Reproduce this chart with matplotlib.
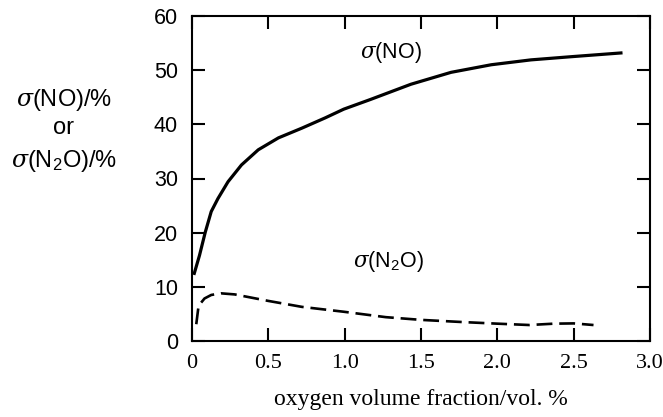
import matplotlib
matplotlib.use("Agg")
import matplotlib.pyplot as plt

# Data
no_x = [0.012, 0.049, 0.087, 0.126, 0.17, 0.236, 0.324, 0.434, 0.566, 0.72, 0.873, 0.994,
        1.17, 1.434, 1.697, 1.96, 2.22, 2.49, 2.82]
no_y = [12.2, 15.8, 20.1, 23.9, 26.3, 29.4, 32.5, 35.3, 37.5, 39.3, 41.2, 42.8,
        44.6, 47.4, 49.6, 51.0, 51.9, 52.5, 53.2]

n2o_x = [0.028, 0.043, 0.082, 0.126, 0.19, 0.28, 0.50, 0.72, 0.994, 1.27, 1.50, 1.77,
         2.0, 2.21, 2.37, 2.50, 2.63]
n2o_y = [3.1, 6.5, 7.85, 8.5, 8.8, 8.6, 7.4, 6.3, 5.4, 4.4, 3.9, 3.5,
         3.2, 2.95, 3.2, 3.25, 2.95]

x_ticks = [0, 0.5, 1.0, 1.5, 2.0, 2.5, 3.0]
x_ticklabels = ["0", "0.5", "1.0", "1.5", "2.0", "2.5", "3.0"]
y_ticks = [0, 10, 20, 30, 40, 50, 60]

plt.rcParams["mathtext.fontset"] = "custom"
plt.rcParams["mathtext.rm"] = "Liberation Sans"
plt.rcParams["mathtext.it"] = "DejaVu Serif:italic"

fig = plt.figure(figsize=(6.63, 4.17), dpi=100)
ax = fig.add_axes([192/663, 1 - 341/417, (650-192)/663, (341-16)/417])

ax.plot(no_x, no_y, color="black", lw=2.3, solid_capstyle="butt", solid_joinstyle="round")
ax.plot(n2o_x, n2o_y, color="black", lw=1.9, dashes=(6, 2.6))

ax.set_xlim(0, 3.0)
ax.set_ylim(0, 60)
ax.set_xticks(x_ticks)
ax.set_xticklabels(x_ticklabels, family="Liberation Serif", fontsize=16)
ax.set_yticks(y_ticks)
ax.set_yticklabels([str(v) for v in y_ticks], family="Liberation Sans", fontsize=15.5)
ax.tick_params(direction="in", length=9.5, width=1.5, top=True, right=True)
ax.tick_params(axis="x", pad=9)
ax.tick_params(axis="y", pad=10)
for s in ax.spines.values():
    s.set_linewidth(1.5)

ax.text(1.30, 53.3, r"$\sigma$(NO)", ha="center", va="center", fontsize=15.5, family="Liberation Sans")
ax.text(1.29, 14.6, r"$\sigma$(N$_2$O)", ha="center", va="center", fontsize=15.5, family="Liberation Sans")

ax.set_xlabel("oxygen volume fraction/vol. %", family="Liberation Serif", fontsize=17, labelpad=12)

fig.text(64/663, 1 - 100/417, r"$\sigma$(NO)/%", ha="center", va="center", fontsize=17, family="Liberation Sans")
fig.text(64/663, 1 - 128/417, "or", ha="center", va="center", fontsize=17, family="Liberation Sans")
fig.text(64/663, 1 - 161/417, r"$\sigma$(N$_2$O)/%", ha="center", va="center", fontsize=17, family="Liberation Sans")

fig.savefig("out.png", dpi=100)
